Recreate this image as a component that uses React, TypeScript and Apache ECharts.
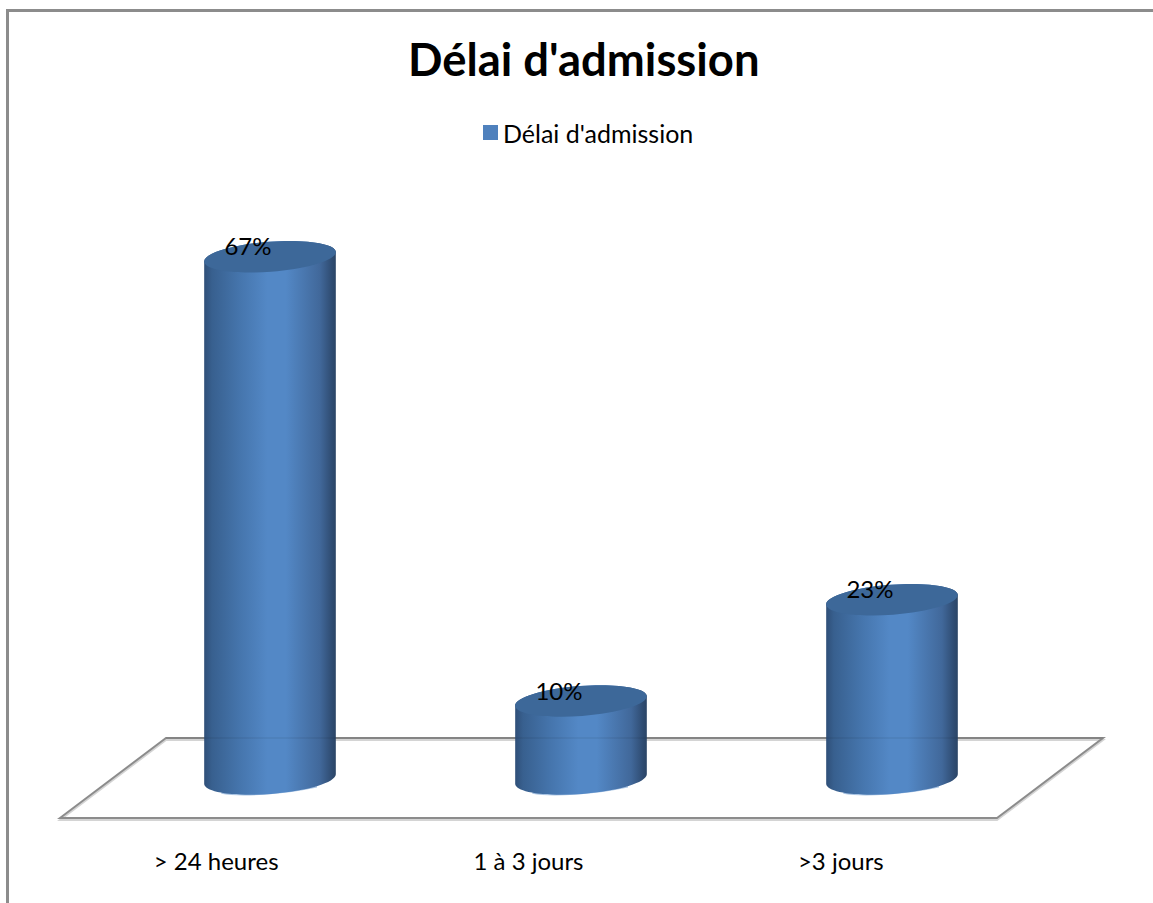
import React, { useEffect, useRef } from "react";
import * as echarts from "echarts";

const FONT = "Lato, 'Open Sans', sans-serif";
const seriesName = "Délai d'admission";
const barCategories = ["> 24 heures", "1 à 3 jours", ">3 jours"];
const barValues = [67, 10, 23];

// Cylinder proportions, in pixels.
const RX = 66;
const RY = 15;
const TILT = (-4.3 * Math.PI) / 180;
const KAPPA = 0.5523;

const GRID_TOP = 233.35;
const GRID_HEIGHT = 545.65;

// Point on a tilted ellipse, given in the ellipse's own axes.
function tilted(cx: number, cy: number, u: number, v: number) {
  const c = Math.cos(TILT);
  const s = Math.sin(TILT);
  return `${cx + u * c - v * s} ${cy + u * s + v * c}`;
}

// Lower half of a tilted ellipse as two Béziers, from the left end to the right end.
function lowerHalf(cx: number, cy: number) {
  return (
    `C ${tilted(cx, cy, -RX, KAPPA * RY)} ${tilted(cx, cy, -KAPPA * RX, RY)} ${tilted(cx, cy, 0, RY)} ` +
    `C ${tilted(cx, cy, KAPPA * RX, RY)} ${tilted(cx, cy, RX, KAPPA * RY)} ${tilted(cx, cy, RX, 0)}`
  );
}

// Upper half, from the right end back to the left end.
function upperHalf(cx: number, cy: number) {
  return (
    `C ${tilted(cx, cy, RX, -KAPPA * RY)} ${tilted(cx, cy, KAPPA * RX, -RY)} ${tilted(cx, cy, 0, -RY)} ` +
    `C ${tilted(cx, cy, -KAPPA * RX, -RY)} ${tilted(cx, cy, -RX, -KAPPA * RY)} ${tilted(cx, cy, -RX, 0)}`
  );
}

function renderCylinder(params: any, api: any) {
  const cat = api.value(0);
  const val = api.value(1);
  const [cx, cyTop] = api.coord([cat, val]);
  const [, cyBase] = api.coord([cat, 0]);

  const body =
    `M ${tilted(cx, cyTop, -RX, 0)} L ${tilted(cx, cyBase, -RX, 0)} ` +
    `${lowerHalf(cx, cyBase)} L ${tilted(cx, cyTop, RX, 0)} ` +
    `${upperHalf(cx, cyTop)} Z`;
  const cap = `M ${tilted(cx, cyTop, -RX, 0)} ${lowerHalf(cx, cyTop)} ${upperHalf(cx, cyTop)} Z`;
  const rim = `M ${tilted(cx, cyBase + 0.5, -RX * 0.75, RY * 0.66)} C ${tilted(cx, cyBase + 0.5, -RX * 0.45, RY)} ${tilted(cx, cyBase + 0.5, RX * 0.2, RY * 1.02)} ${tilted(cx, cyBase + 0.5, RX * 0.7, RY * 0.72)}`;

  return {
    type: "group",
    children: [
      {
        type: "path",
        shape: { pathData: rim },
        style: { fill: "none", stroke: "#a9c4e3", lineWidth: 1.5 },
      },
      {
        type: "path",
        shape: { pathData: body },
        style: {
          fill: new echarts.graphic.LinearGradient(0, 0, 1, 0, [
            { offset: 0, color: "#2f4f78" },
            { offset: 0.06, color: "#38608f" },
            { offset: 0.28, color: "#4676ae" },
            { offset: 0.48, color: "#5388c6" },
            { offset: 0.62, color: "#5388c6" },
            { offset: 0.88, color: "#41689a" },
            { offset: 0.97, color: "#2f4c72" },
            { offset: 1, color: "#2b4566" },
          ]),
        },
      },
      {
        type: "path",
        shape: { pathData: cap },
        style: { fill: "#3d6899" },
      },
      {
        type: "text",
        style: {
          text: `${val}%`,
          x: cx - 22,
          y: cyTop - 11,
          align: "center",
          verticalAlign: "middle",
          fill: "#000",
          font: `24px ${FONT}`,
        },
      },
    ],
  };
}

export default function App() {
  const ref = useRef<HTMLDivElement>(null);

  useEffect(() => {
    const chart = echarts.init(ref.current!, undefined, { renderer: "svg" });
    const floorLine = "#8c8c8c";
    const floorShade = "#d4d4d4";
    chart.setOption({
      animation: false,
      backgroundColor: "#fff",
      title: {
        text: seriesName,
        left: 403,
        top: 31,
        textStyle: { fontFamily: FONT, fontSize: 45.4, fontWeight: "bold", color: "#000" },
      },
      legend: {
        left: 478,
        top: 115,
        padding: [5, 5, 5, 5],
        itemWidth: 15,
        itemHeight: 15,
        itemGap: 6,
        icon: "rect",
        textStyle: { fontFamily: FONT, fontSize: 25, color: "#000", padding: [0, 0, 6, 0] },
        data: [seriesName],
      },
      grid: [
        { left: 114.5, width: 933, top: GRID_TOP, height: GRID_HEIGHT },
        { left: 60, width: 937, top: GRID_TOP, height: 584.5 },
      ],
      xAxis: [
        { type: "category", gridIndex: 0, data: barCategories, show: false },
        {
          type: "category",
          gridIndex: 1,
          data: barCategories,
          axisLine: { show: false },
          axisTick: { show: false },
          axisLabel: { margin: 31, color: "#000", fontFamily: FONT, fontSize: 24 },
        },
      ],
      yAxis: [
        { type: "value", gridIndex: 0, min: 0, max: 70, show: false },
        { type: "value", gridIndex: 1, min: 0, max: 70, show: false },
      ],
      graphic: [
        // Chart frame: left and top edges only.
        { type: "rect", shape: { x: 6, y: 9, width: 3, height: 894 }, style: { fill: "#8c8c8c" }, silent: true },
        { type: "rect", shape: { x: 6, y: 9, width: 1147, height: 3 }, style: { fill: "#8c8c8c" }, silent: true },
        // Floor of the plot, with its soft lower edge.
        {
          type: "polygon",
          shape: { points: [[60, 820], [166, 740], [1103, 740], [997, 820]] },
          style: { fill: "none", stroke: floorShade, lineWidth: 2 },
          silent: true,
        },
        {
          type: "polygon",
          shape: { points: [[60, 818], [166, 738], [1103, 738], [997, 818]] },
          style: { fill: "none", stroke: floorLine, lineWidth: 2 },
          silent: true,
        },
        // Back edge of the floor, faintly visible through the cylinders.
        {
          type: "line",
          z: 10,
          shape: { x1: 166, y1: 738, x2: 1103, y2: 738 },
          style: { stroke: "#000", opacity: 0.05, lineWidth: 2 },
          silent: true,
        },
      ],
      series: [
        {
          name: seriesName,
          type: "custom",
          xAxisIndex: 0,
          yAxisIndex: 0,
          coordinateSystem: "cartesian2d",
          clip: false,
          itemStyle: { color: "#4f81bd" },
          renderItem: renderCylinder,
          encode: { x: 0, y: 1 },
          data: barValues.map((v, i) => [i, v]),
        },
      ],
    });
    return () => chart.dispose();
  }, []);

  return <div ref={ref} style={{ position: "absolute", left: 0, top: 0, width: 1153, height: 903 }} />;
}
